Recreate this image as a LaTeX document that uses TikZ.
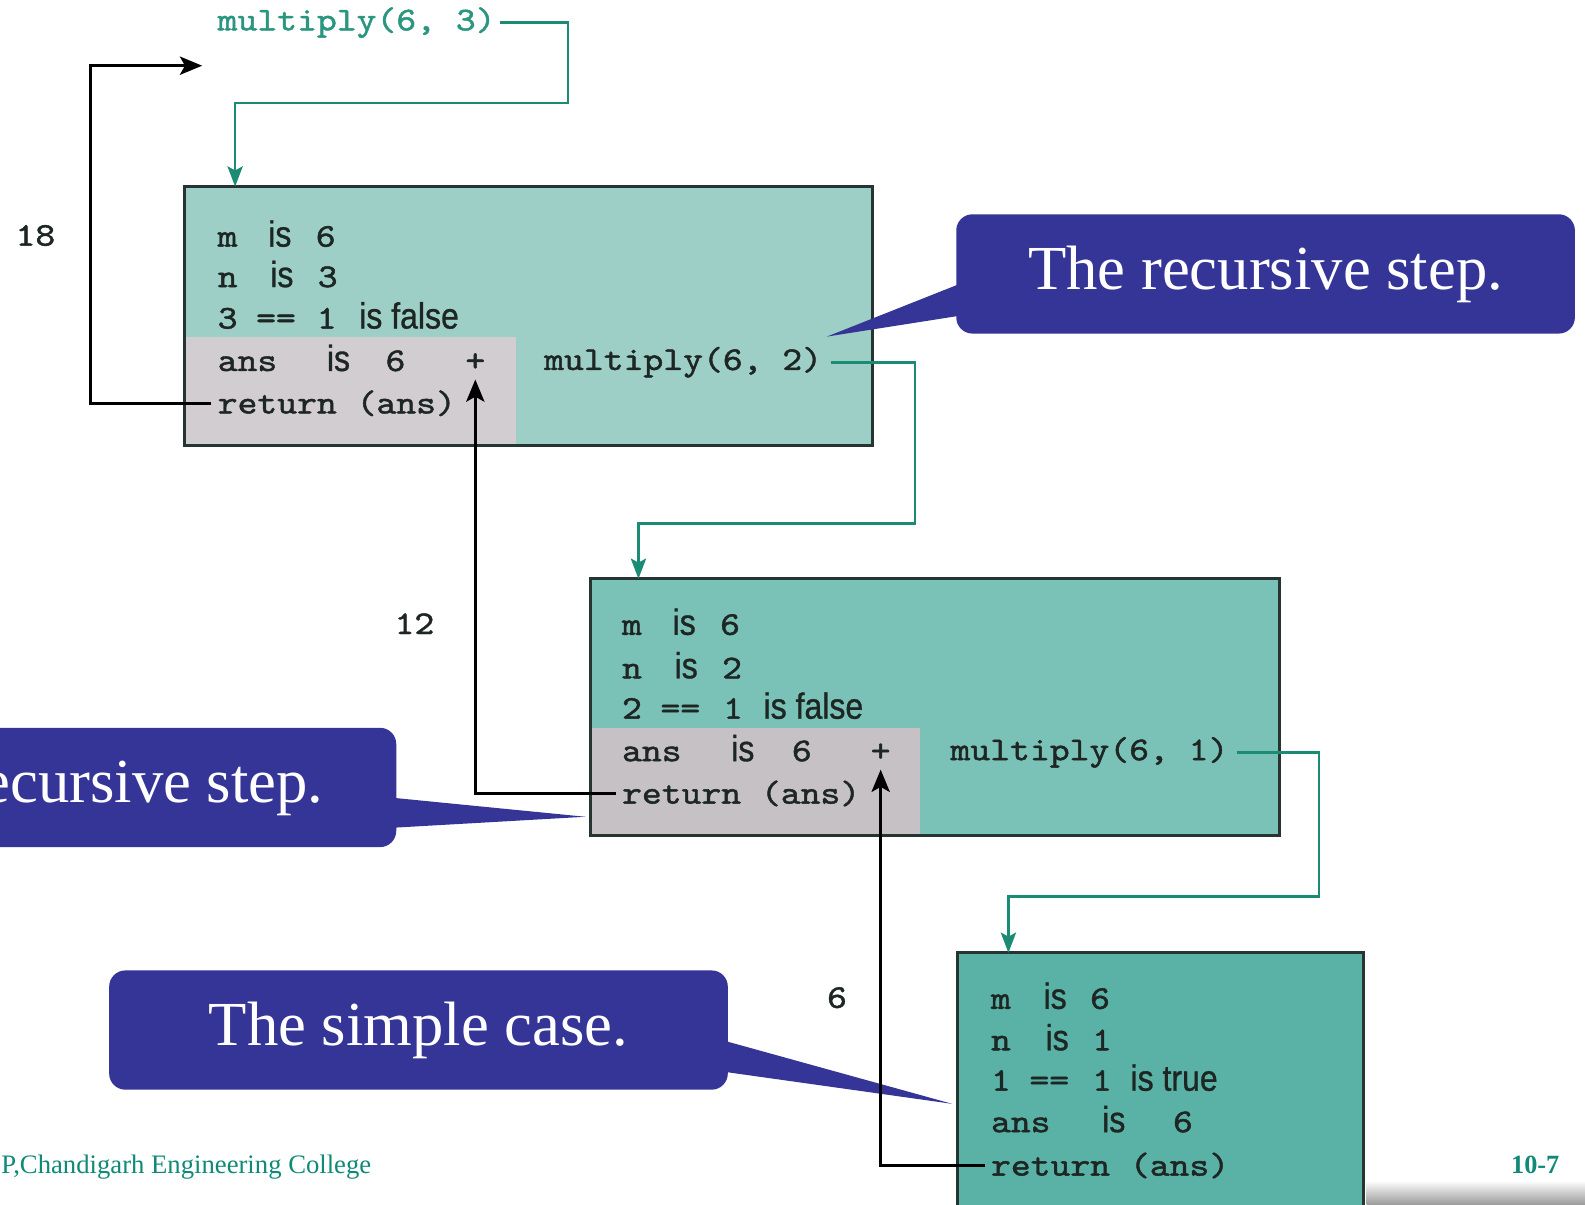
\documentclass[tikz,border=0pt]{standalone}
\usepackage{fontspec}
\usetikzlibrary{arrows.meta,calc}
\setmainfont{Liberation Serif}
\newfontfamily\cmonofam[FakeBold=1.4, FakeStretch=1.14]{lmmono10-regular.otf}
\newfontfamily\csansfam[FakeStretch=0.88, FakeBold=0.8]{Liberation Sans}
\newdimen\pu \pu=0.5pt
\newcommand\codefont{\cmonofam\fontsize{16.4}{18}\selectfont}
\newcommand\sansfont{\csansfam\fontsize{18}{20}\selectfont}
\newcommand\CM[1]{{\codefont #1}}
\newcommand\SF[1]{{\sansfont #1}}
\newcommand\colbox[2]{\makebox[#1\pu][l]{#2}}
\definecolor{boxA}{HTML}{9ECFC7}
\definecolor{boxB}{HTML}{7AC1B7}
\definecolor{boxC}{HTML}{5AB1A6}
\definecolor{grayA}{HTML}{D1CDD1}
\definecolor{grayB}{HTML}{C5C1C5}
\definecolor{linkteal}{HTML}{1B8B73}
\definecolor{toptext}{HTML}{2A9680}
\definecolor{calblue}{HTML}{353598}
\definecolor{footteal}{HTML}{0F8A78}
\definecolor{border}{HTML}{263432}
\definecolor{boxtext}{HTML}{1E2624}
\tikzset{
  txt/.style={anchor=base west, inner sep=0pt, text=boxtext},
  framebox/.style={draw=none, inner sep=0pt},
  boxborder/.style={draw=border, line width=1.5pt},
  tealline/.style={draw=linkteal, line width=1.3pt, -{Stealth[length=10pt,width=7.5pt,inset=2pt]}},
  backline/.style={draw=black, line width=1.5pt, -{Stealth[length=11pt,width=9pt,inset=2.5pt]}},
  callout/.style={fill=calblue, rounded corners=8pt, text=white, inner sep=0pt,
    minimum width=612\pu, minimum height=118\pu, font=\fontsize{31}{34}\selectfont},
  numlbl/.style={inner sep=0pt, text=boxtext, font=\codefont}
}
\begin{document}
\begin{tikzpicture}[x=0.5pt, y=-0.5pt]
\useasboundingbox (0,0) rectangle (1568,1192);
\fill[white] (0,0) rectangle (1568,1192);

% bottom right shadow band
\shade[top color=white, bottom color=black!40] (1352,1168) rectangle (1568,1192);

% ---------- boxes ----------
\node[framebox, fill=boxA, minimum width=680\pu, minimum height=255\pu] (b1) at (523,312.5) {};
\fill[grayA] (b1.south west) rectangle (510,333);
\draw[boxborder] (b1.north west) rectangle (b1.south east);

\node[framebox, fill=boxB, minimum width=680\pu, minimum height=253\pu] (b2) at (925,699.5) {};
\fill[grayB] (b2.south west) rectangle (910,720);
\draw[boxborder] (b2.north west) rectangle (b2.south east);

\node[framebox, fill=boxC, minimum width=400\pu, minimum height=262\pu] (b3) at (1148,1074) {};
\draw[boxborder] (b3.north west) rectangle (b3.south east);

% ---------- callouts ----------
\node[callout] (cal1) at (1252,271) {The recursive step.};
\coordinate (tip1) at (818,333);
\fill[calblue] ($(cal1.west)+(6,9)$) -- (tip1) -- ($(cal1.west)+(6,41)$) -- cycle;

\node[callout, minimum width=614\pu] (cal2) at (85,779) {The recursive step.};
\coordinate (tip2) at (579,808);
\fill[calblue] ($(cal2.east)+(-6,10)$) -- (tip2) -- ($(cal2.east)+(-6,40)$) -- cycle;

\node[callout] (cal3) at (414,1019) {The simple case.};
\coordinate (tip3) at (942,1092);
\fill[calblue] ($(cal3.east)+(-6,10)$) -- (tip3) -- ($(cal3.east)+(-6,41)$) -- cycle;

% ---------- texts ----------
\node[txt, text=toptext] (top) at (215,30) {\CM{multiply(6, 3)}};

\node[txt] (b1l1) at (215,244) {\colbox{50}{\CM{m}}\colbox{47}{\SF{is}}\CM{6}};
\node[txt] (b1l2) at (215,284) {\colbox{52}{\CM{n}}\colbox{47}{\SF{is}}\CM{3}};
\node[txt] (b1l3) at (215,325) {\colbox{38}{\CM{3}}\colbox{60}{\CM{==}}\colbox{42}{\CM{1}}\SF{is false}};
\node[txt] (b1l4) at (215,367) {\colbox{108}{\CM{ans}}\colbox{58}{\SF{is}}\CM{6}};
\node[txt] (b1p) at (460,367) {\CM{+}};
\node[txt] (b1r) at (215,409) {\CM{return (ans)}};
\node[txt] (b1c) at (538,366) {\CM{multiply(6, 2)}};

\node[txt] (b2l1) at (615,628) {\colbox{50}{\CM{m}}\colbox{47}{\SF{is}}\CM{6}};
\node[txt] (b2l2) at (615,671) {\colbox{52}{\CM{n}}\colbox{47}{\SF{is}}\CM{2}};
\node[txt] (b2l3) at (615,711) {\colbox{38}{\CM{2}}\colbox{62}{\CM{==}}\colbox{40}{\CM{1}}\SF{is false}};
\node[txt] (b2l4) at (615,753) {\colbox{108}{\CM{ans}}\colbox{60}{\SF{is}}\CM{6}};
\node[txt] (b2p) at (861,753) {\CM{+}};
\node[txt] (b2r) at (615,795) {\CM{return (ans)}};
\node[txt] (b2c) at (940,752) {\CM{multiply(6, 1)}};

\node[txt] (b3l1) at (980,998) {\colbox{52}{\CM{m}}\colbox{46}{\SF{is}}\CM{6}};
\node[txt] (b3l2) at (980,1039) {\colbox{54}{\CM{n}}\colbox{46}{\SF{is}}\CM{1}};
\node[txt] (b3l3) at (980,1079) {\colbox{38}{\CM{1}}\colbox{62}{\CM{==}}\colbox{38}{\CM{1}}\SF{is true}};
\node[txt] (b3l4) at (980,1120) {\colbox{110}{\CM{ans}}\colbox{70}{\SF{is}}\CM{6}};
\node[txt] (b3r) at (980,1163) {\CM{return (ans)}};

\node[numlbl] (n18) at (35,233) {18};
\node[numlbl] (n12) at (410,617) {12};
\node[numlbl] (n6) at (828,987) {6};

% ---------- connectors ----------
\coordinate (k1) at (562,102);
\coordinate (b1in) at ($(b1.north west)+(50,0)$);
\draw[tealline, shorten <=2pt] (top.east) -| (k1) -| (b1in);

\coordinate (k2) at (905,518);
\coordinate (b2in) at ($(b2.north west)+(47,0)$);
\draw[tealline, shorten <=4pt] (b1c.east) -| (k2) -| (b2in);

\coordinate (k3) at (1305,887);
\coordinate (b3in) at ($(b3.north west)+(50,0)$);
\draw[tealline, shorten <=4pt] (b2c.east) -| (k3) -| (b3in);

\coordinate (k4) at (90,65);
\coordinate (ret1) at (200,65);
\draw[backline, shorten <=3pt] (b1r.west) -| (k4) -- (ret1);
\draw[backline, shorten <=3pt, shorten >=4pt] (b2r.west) -| (b1p.south);
\draw[backline, shorten <=3pt, shorten >=4pt] (b3r.west) -| (b2p.south);

% ---------- footer ----------
\node[anchor=base west, inner sep=0pt, text=footteal, font=\fontsize{13.2}{15}\selectfont] (foot) at (1,1161) {P,Chandigarh Engineering College};
\node[anchor=base east, inner sep=0pt, text=footteal, font=\fontsize{13}{15}\selectfont\bfseries] (pg) at (1543,1161) {10-7};
\end{tikzpicture}
\end{document}
